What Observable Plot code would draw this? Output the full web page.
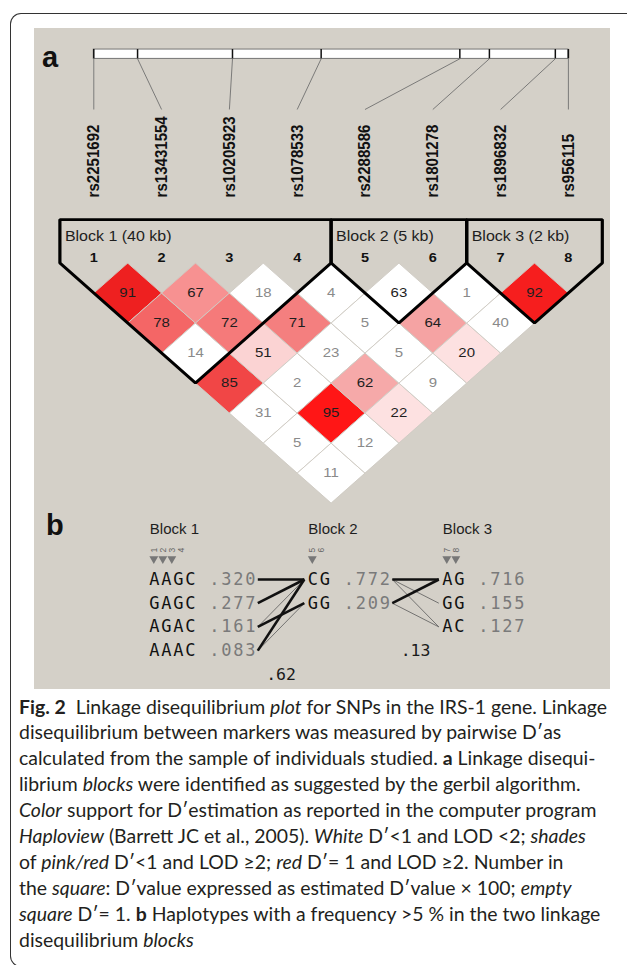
<!DOCTYPE html>
<html><head><meta charset="utf-8">
<script src="https://cdn.jsdelivr.net/npm/d3@7"></script>
<script src="https://cdn.jsdelivr.net/npm/@observablehq/plot@0.6"></script>
<style>
html,body{margin:0;padding:0;background:#fff;overflow:hidden;}
#root{position:relative;width:627px;height:965px;overflow:hidden;}
#frame{position:absolute;left:10px;top:13px;width:680px;height:954px;border:1.2px solid #333;border-right:none;border-radius:11px 0 0 11px;box-sizing:border-box;}
#panel{position:absolute;left:33.5px;top:28px;width:576.5px;height:661px;background:#d4d0c8;}
#pa{position:absolute;left:0;top:0;transform:scaleY(0.885);transform-origin:0 0;}
#pb{position:absolute;left:0;top:500px;}
.lab{position:absolute;font:bold 29px "Liberation Sans",Arial,sans-serif;color:#111;line-height:29px;}
#caption{position:absolute;left:19px;top:693.5px;font-family:Lato,"Noto Sans",sans-serif;font-size:19.5px;line-height:25.9px;color:#231f20;white-space:nowrap;transform-origin:0 0;}
#caption b{font-weight:bold;}
</style></head>
<body><div id="root">
<div id="frame"></div>
<div id="panel"></div>
<div id="pa"></div>
<div id="pb"></div>
<div class="lab" style="left:42px;top:42.5px">a</div>
<div class="lab" style="left:46px;top:510.5px">b</div>
<div id="caption">
<div><span id="cl1"><b>Fig. 2</b>&nbsp; Linkage disequilibrium <i>plot</i> for SNPs in the IRS-1 gene. Linkage</span></div>
<div>disequilibrium between markers was measured by pairwise D′as</div>
<div>calculated from the sample of individuals studied. <b>a</b> Linkage disequi-</div>
<div>librium <i>blocks</i> were identified as suggested by the gerbil algorithm.</div>
<div><i>Color</i> support for D′estimation as reported in the computer program</div>
<div><i>Haploview</i> (Barrett JC et al., 2005). <i>White</i> D′&lt;1 and LOD &lt;2; <i>shades</i></div>
<div>of <i>pink/red</i> D′&lt;1 and LOD ≥2; <i>red</i> D′= 1 and LOD ≥2. Number in</div>
<div>the <i>square</i>: D′value expressed as estimated D′value × 100; <i>empty</i></div>
<div><i>square</i> D′= 1. <b>b</b> Haplotypes with a frequency &gt;5 % in the two linkage</div>
<div>disequilibrium <i>blocks</i></div>
</div>
</div>
<script>
// ---------- DATA ----------
const snpNames = ["rs2251692","rs13431554","rs10205923","rs1078533","rs2288586","rs1801278","rs1896832","rs956115"];
const snpPosKb = [0, 7.7, 24.4, 40.0, 64.4, 69.6, 81.2, 83.5];
const blockNames = ["Block 1 (40 kb)","Block 2 (5 kb)","Block 3 (2 kb)"];
const blockRanges = [[1,4],[5,6],[7,8]];
// D' x 100, row r = first marker r+1, entries for second marker j = r+2 ...
const dprimeRows = [
  [91,78,14,85,31,5,11],
  [67,72,51,2,95,12],
  [18,71,23,62,22],
  [4,5,5,9],
  [63,64,20],
  [1,40],
  [92]
];
const W = "#ffffff";
const cellColorRows = [
  ["#ee2020","#f46666",W,"#f14646",W,W,W],
  ["#f79191","#f57a7a","#fbd3d3",W,"#ff1616",W],
  [W,"#f47f7f",W,"#f6a9a9","#fde1e1"],
  [W,W,W,W],
  [W,"#f5a3a3","#fde1e1"],
  [W,W],
  ["#f61e1e"]
];
const darkTextCells = ["5-6"];

const hapBlocks = ["Block 1","Block 2","Block 3"];
const hapMarkers = [[1,2,3,4],[5,6],[7,8]];
const tagSnps = [1,2,3,5,7,8];
const haplotypes = [["AAGC","GAGC","AGAC","AAAC"],["CG","GG"],["AG","GG","AC"]];
const hapFreqs = [[".320",".277",".161",".083"],[".772",".209"],[".716",".155",".127"]];
// crossings between block b and b+1: [fromRow, toRow, thick(1)/thin(0)]
const crossings = [
  [[0,0,1],[1,0,1],[2,1,1],[3,0,1],[2,0,0],[3,1,0]],
  [[0,0,1],[1,0,1],[0,1,0],[0,2,0],[1,2,0]]
];
const multiD = [".62",".13"];

// ---------- PANEL A ----------
const LAY = {barTop:-7.12, barBottom:-6.81, connEnd:-5.12, labelBase:-2.19, blockTop:-1.45, blockLabel:-0.9, markerNum:-0.19};
const N = snpNames.length;
const pos = kb => 1 + (N-1) * kb / snpPosKb[N-1];
const snps = snpNames.map((name,k)=>({name, k:k+1, p:pos(snpPosKb[k])}));
const cells = [];
dprimeRows.forEach((row,r)=>row.forEach((v,c)=>{const i=r+1,j=i+c+1;cells.push({i,j,v,color:cellColorRows[r][c]});}));
const diamondPts = cells.flatMap(d=>{const cx=(d.i+d.j)/2,L=d.j-d.i;
  return [[cx,L-1],[cx+0.5,L],[cx,L+1],[cx-0.5,L],[cx,L-1]].map(([x,y])=>({id:d.i+"-"+d.j,x,y,color:d.color}));});
const blockPts = blockRanges.flatMap(([a,b],n)=>{const m=(a+b)/2,T=LAY.blockTop;
  return [[m,T],[b+0.5,T],[b+0.5,0],[m,b-a+1],[a-0.5,0],[a-0.5,T],[m,T]].map(([x,y])=>({n,x,y}));});
const blocksA = blockRanges.map(([a,b],n)=>({a,b,name:blockNames[n]}));
const FONT = "Liberation Sans, Arial, sans-serif";

const pa = Plot.plot({
  width:627, height:580, margin:0,
  style:{background:"transparent", overflow:"visible"},
  x:{domain:[-0.3761,8.8717], range:[0,627], axis:null},
  y:{domain:[-8.755,8.354], range:[0,580], axis:null},
  color:{type:"identity"},
  marks:[
    Plot.rect([0],{x1:()=>pos(snpPosKb[0]), x2:()=>pos(snpPosKb[N-1]), y1:()=>LAY.barTop, y2:()=>LAY.barBottom, fill:"white", stroke:"#666", strokeWidth:1}),
    Plot.ruleX(snps,{x:"p", y1:()=>LAY.barTop, y2:()=>LAY.barBottom, stroke:"#111", strokeWidth:1.5}),
    Plot.link(snps,{x1:"p", y1:()=>LAY.barBottom, x2:"k", y2:()=>LAY.connEnd, stroke:"#6a6a6a", strokeWidth:0.9}),
    Plot.text(snps,{x:"k", y:()=>LAY.labelBase, text:"name", rotate:-90, textAnchor:"start", fontWeight:"bold", fontSize:17, fontFamily:FONT, fill:"#111"}),
    Plot.line(diamondPts,{x:"x", y:"y", z:"id", fill:"color", stroke:"#cfcbc3", strokeWidth:1}),
    Plot.text(cells,{x:d=>(d.i+d.j)/2, y:d=>d.j-d.i, text:"v", fontSize:15, fontFamily:FONT,
      fill:d=>(d.color!==W||darkTextCells.includes(d.i+"-"+d.j))?"#1e1e1e":"#8a8a8a"}),
    Plot.line(blockPts,{x:"x", y:"y", z:"n", stroke:"#000", strokeWidth:3.2, strokeLinejoin:"miter"}),
    Plot.text(blocksA,{x:d=>d.a-0.5, y:()=>LAY.blockLabel, dx:5, text:"name", textAnchor:"start", fontSize:16, fontFamily:FONT, fill:"#1e1e1e"}),
    Plot.text(snps,{x:"k", y:()=>LAY.markerNum, text:"k", fontWeight:"bold", fontSize:14.5, fontFamily:FONT, fill:"#111"})
  ]
});
document.getElementById("pa").appendChild(pa);

// ---------- PANEL B ----------
const X0 = 149.3, PITCH = 12, MPITCH = 9, GAP = 46.5;
const bx = [], lineStart = [], lineEnd = [];
haplotypes.forEach((rows,b)=>{
  const n = hapMarkers[b].length;
  bx[b] = b===0 ? X0 : lineEnd[b-1] + 4;
  lineStart[b] = bx[b] + (n+4)*PITCH + 12;
  lineEnd[b] = lineStart[b] + GAP;
});
const hapChars = [];
haplotypes.forEach((rows,b)=>rows.forEach((h,r)=>{
  const s = h + " " + hapFreqs[b][r];
  [...s].forEach((ch,c)=>{ if(ch!==" ") hapChars.push({x:bx[b]+4.5+c*PITCH, y:r, ch, kind:c<h.length?"a":"f"}); });
}));
const markerLabs = hapMarkers.flatMap((ms,b)=>ms.map((m,c)=>({x:bx[b]+4+c*MPITCH, m, tag:tagSnps.includes(m)})));
const links = crossings.flatMap((cs,b)=>cs.map(([f,t,w])=>({x1:lineStart[b], x2:lineEnd[b], y1:f, y2:t, w})));
const multi = multiD.map((v,b)=>({x:(lineStart[b]+lineEnd[b])/2, y:Math.max(haplotypes[b].length, haplotypes[b+1].length), v}));
const heads = hapBlocks.map((name,b)=>({x:bx[b], name}));
const MONO = "DejaVu Sans Mono, monospace";

const pb = Plot.plot({
  width:627, height:190, margin:0,
  style:{background:"transparent", overflow:"visible"},
  x:{domain:[0,627], range:[0,627], axis:null},
  y:{domain:[-3.333,4.684], range:[0,190], axis:null},
  color:{type:"identity"},
  marks:[
    Plot.text(heads,{x:"x", y:()=>-2.11, text:"name", textAnchor:"start", fontSize:15, fontFamily:FONT, fill:"#1e1e1e"}),
    Plot.text(markerLabs,{x:"x", y:()=>-1.236, text:"m", rotate:-90, fontSize:8.5, fontFamily:FONT, fill:"#666"}),
    Plot.dot(markerLabs.filter(d=>d.tag),{x:"x", y:()=>-0.873, symbol:"triangle", rotate:180, r:3.3, fill:"#777", stroke:"none"}),
    Plot.link(links.filter(d=>!d.w),{x1:"x1", x2:"x2", y1:"y1", y2:"y2", stroke:"#5a5a5a", strokeWidth:0.8}),
    Plot.link(links.filter(d=>d.w),{x1:"x1", x2:"x2", y1:"y1", y2:"y2", stroke:"#111", strokeWidth:2.6}),
    Plot.text(hapChars,{x:"x", y:"y", text:"ch", fontSize:17, fontFamily:MONO, fill:d=>d.kind==="a"?"#111":"#7a7a7a"}),
    Plot.text(multi,{x:"x", y:"y", text:"v", fontSize:16.5, fontFamily:MONO, fill:"#1a1a1a"})
  ]
});
document.getElementById("pb").appendChild(pb);

// fit caption width to the reference line length
const cap = document.getElementById("caption");
const w1 = document.getElementById("cl1").getBoundingClientRect().width;
cap.style.transform = `scaleX(${588/w1})`;
</script>
</body></html>
